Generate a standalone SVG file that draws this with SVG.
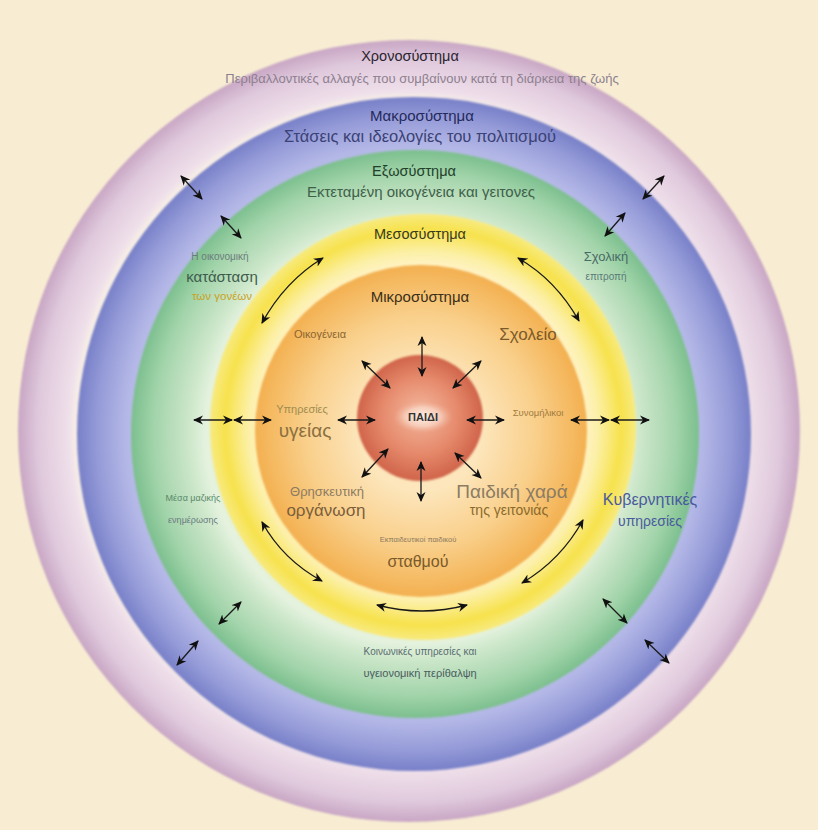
<svg xmlns="http://www.w3.org/2000/svg" width="818" height="830" viewBox="0 0 818 830">
<defs>
<radialGradient id="gChrono"><stop offset="0.85" stop-color="#f8efe6"/><stop offset="0.87" stop-color="#efe0ea"/><stop offset="0.95" stop-color="#dfc8dc"/><stop offset="1" stop-color="#c8a6c4"/></radialGradient>
<radialGradient id="gMacro"><stop offset="0.83" stop-color="#b9bce8"/><stop offset="0.86" stop-color="#b2b6e6"/><stop offset="0.94" stop-color="#959bd8"/><stop offset="1" stop-color="#7880c8"/></radialGradient>
<radialGradient id="gExo"><stop offset="0.74" stop-color="#e4f2de"/><stop offset="0.79" stop-color="#cfe8cc"/><stop offset="0.92" stop-color="#a2d4aa"/><stop offset="1" stop-color="#7cbf8e"/></radialGradient>
<radialGradient id="gMeso"><stop offset="0.76" stop-color="#fff3c4"/><stop offset="0.82" stop-color="#fcf0a8"/><stop offset="0.93" stop-color="#f7e24c"/><stop offset="1" stop-color="#f8ea80"/></radialGradient>
<radialGradient id="gMicro"><stop offset="0.36" stop-color="#fde6bc"/><stop offset="0.7" stop-color="#f9cf8a"/><stop offset="1" stop-color="#f3b050"/></radialGradient>
<radialGradient id="gChild" cx="0.5" cy="0.5" r="0.5" fx="0.5" fy="0.45"><stop offset="0" stop-color="#f3b89e"/><stop offset="0.6" stop-color="#e68a6c"/><stop offset="1" stop-color="#d0644a"/></radialGradient>
<radialGradient id="gGlow"><stop offset="0" stop-color="#fff4ea" stop-opacity="0.95"/><stop offset="0.6" stop-color="#fbe2d4" stop-opacity="0.6"/><stop offset="1" stop-color="#f3b89e" stop-opacity="0"/></radialGradient>
<filter id="soft" x="-5%" y="-5%" width="110%" height="110%"><feGaussianBlur stdDeviation="1.2"/></filter>
<marker id="ah" viewBox="0 0 10 10" refX="9" refY="5" markerWidth="10" markerHeight="10" markerUnits="userSpaceOnUse" orient="auto-start-reverse"><path d="M0,0.5 L10,5 L0,9.5 L3,5 z" fill="#111"/></marker>
</defs>
<style>
text{font-family:"Liberation Sans","DejaVu Sans",sans-serif;text-anchor:middle}
.ar{fill:none;stroke:#1a1a1a;stroke-width:1.3;marker-start:url(#ah);marker-end:url(#ah)}
</style>
<rect width="818" height="830" fill="#f8edd3"/>
<g id="rings">
<circle id="ring-chrono" cx="409" cy="431" r="391" fill="url(#gChrono)" filter="url(#soft)"/>
<circle id="ring-macro" cx="414" cy="434" r="337" fill="url(#gMacro)" filter="url(#soft)"/>
<circle id="ring-exo" cx="415" cy="434" r="284" fill="url(#gExo)" filter="url(#soft)"/>
<circle id="ring-meso" cx="423" cy="427" r="213" fill="url(#gMeso)" filter="url(#soft)"/>
<circle id="ring-micro" cx="421" cy="431" r="166" fill="url(#gMicro)" filter="url(#soft)"/>
</g>
<g id="chronosystem">
<text x="410" y="61" font-size="14.5" fill="#2a2530">Χρονοσύστημα</text>
<text x="422" y="83" font-size="13" fill="#8d7f8f">Περιβαλλοντικές αλλαγές που συμβαίνουν κατά τη διάρκεια της ζωής</text>
</g>
<g id="macrosystem">
<text x="422" y="121" font-size="15" fill="#242a5a">Μακροσύστημα</text>
<text x="420" y="142" font-size="16.5" fill="#3b4275">Στάσεις και ιδεολογίες του πολιτισμού</text>
<text x="650" y="505" font-size="16" fill="#4a5a9e">Κυβερνητικές</text>
<text x="650" y="526" font-size="14" fill="#4a5a9e">υπηρεσίες</text>
</g>
<g id="exosystem">
<text x="414" y="176" font-size="14.5" fill="#22402a">Εξωσύστημα</text>
<text x="421" y="197" font-size="15" fill="#40604a">Εκτεταμένη οικογένεια και γειτονες</text>
<text x="220" y="260" font-size="10" fill="#6a7c7c">Η οικονομική</text>
<text x="222" y="282" font-size="15" fill="#3e5c4c">κατάσταση</text>
<text x="222" y="300" font-size="11.5" fill="#c9a21c">των γονέων</text>
<text x="606" y="261" font-size="13" fill="#4a6a68">Σχολική</text>
<text x="606" y="280" font-size="10" fill="#5a7a78">επιτροπή</text>
<text x="193" y="501" font-size="9" fill="#5a8a6a">Μέσα μαζικής</text>
<text x="193" y="523" font-size="9" fill="#6a7a80">ενημέρωσης</text>
<text x="420" y="655" font-size="10" fill="#5a6c70">Κοινωνικές υπηρεσίες και</text>
<text x="420" y="677" font-size="11" fill="#4a5c60">υγειονομική περίθαλψη</text>
</g>
<g id="mesosystem">
<text x="420" y="239" font-size="14.5" fill="#3a3a1e">Μεσοσύστημα</text>
</g>
<g id="microsystem">
<text x="420" y="302" font-size="15" fill="#3a2f1a">Μικροσύστημα</text>
<text x="320" y="338" font-size="11" fill="#8a6530">Οικογένεια</text>
<text x="528" y="340" font-size="17" fill="#7a5a2a">Σχολείο</text>
<text x="302" y="413" font-size="11" fill="#a08c50">Υπηρεσίες</text>
<text x="305" y="437" font-size="19" fill="#8a7040">υγείας</text>
<text x="538" y="416" font-size="9.5" fill="#a07c40">Συνομήλικοι</text>
<text x="327" y="496" font-size="13" fill="#8c7a62">Θρησκευτική</text>
<text x="326" y="516" font-size="17" fill="#7a5e3c">οργάνωση</text>
<text x="512" y="498" font-size="19" fill="#8c7c64">Παιδική χαρά</text>
<text x="509" y="515" font-size="14" fill="#8a6a2c">της γειτονιάς</text>
<text x="418" y="542" font-size="7.5" fill="#8a7a60">Εκπαιδευτικοί παιδικού</text>
<text x="418" y="567" font-size="16" fill="#7a5a2a">σταθμού</text>
</g>
<g id="child">
<circle cx="420" cy="418" r="63" fill="url(#gChild)" filter="url(#soft)"/>
<ellipse cx="423" cy="417" rx="30" ry="16" fill="url(#gGlow)"/>
<text x="423" y="421" font-size="11" font-weight="bold" fill="#333">ΠΑΙΔΙ</text>
</g>
<g id="connectors">
<line class="ar" x1="181" y1="176" x2="202" y2="199"/>
<line class="ar" x1="221" y1="216" x2="241" y2="238"/>
<line class="ar" x1="664" y1="176" x2="643" y2="199"/>
<line class="ar" x1="625" y1="213" x2="605" y2="236"/>
<line class="ar" x1="241" y1="602" x2="219" y2="624"/>
<line class="ar" x1="198" y1="641" x2="177" y2="665"/>
<line class="ar" x1="603" y1="599" x2="627" y2="623"/>
<line class="ar" x1="645" y1="640" x2="669" y2="663"/>
<line class="ar" x1="194" y1="420" x2="232" y2="420"/>
<line class="ar" x1="234" y1="420" x2="271" y2="420"/>
<line class="ar" x1="338" y1="420" x2="375" y2="420"/>
<line class="ar" x1="467" y1="420" x2="504" y2="420"/>
<line class="ar" x1="571" y1="420" x2="609" y2="420"/>
<line class="ar" x1="611" y1="420" x2="649" y2="420"/>
<line class="ar" x1="422" y1="337" x2="422" y2="376"/>
<line class="ar" x1="362" y1="361" x2="390" y2="388"/>
<line class="ar" x1="481" y1="361" x2="453" y2="388"/>
<line class="ar" x1="421" y1="462" x2="421" y2="501"/>
<line class="ar" x1="388" y1="449" x2="362" y2="477"/>
<line class="ar" x1="455" y1="453" x2="481" y2="478"/>
<path class="ar" d="M323,258 Q285,281 262,323"/>
<path class="ar" d="M518,258 Q556,280 579,321"/>
<path class="ar" d="M262,522 Q283,560 322,581"/>
<path class="ar" d="M583,520 Q561,560 522,583"/>
<path class="ar" d="M377,605 Q422,617 467,605"/>
</g>
</svg>
